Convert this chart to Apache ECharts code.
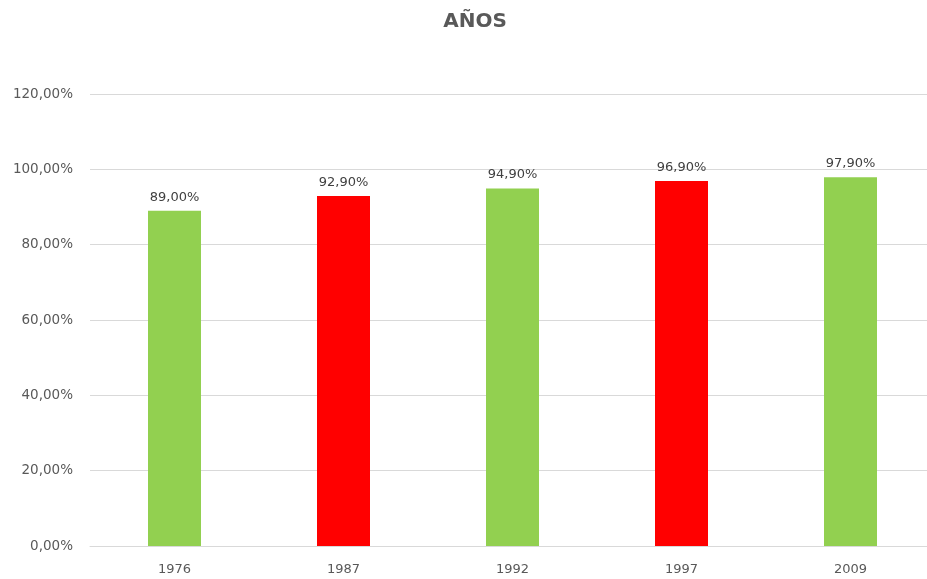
<!DOCTYPE html>
<html>
<head>
<meta charset="utf-8">
<script src="https://cdn.jsdelivr.net/npm/echarts@6/dist/echarts.min.js"></script>
<style>
  html, body { margin: 0; padding: 0; background: #fff; }
  #chart { width: 927px; height: 579px; }
</style>
</head>
<body>
<div id="chart"></div>
<script>
// Years and the share for each one (percent)
const years = ['1976', '1987', '1992', '1997', '2009'];
const values = [89.0, 92.9, 94.9, 96.9, 97.9];
const barColors = ['#92D050', '#FF0000', '#92D050', '#FF0000', '#92D050'];
const yTicks = { min: 0, max: 120, interval: 20 };

const fmt = v => v.toFixed(2).replace('.', ',') + '%';
const font = 'DejaVu Sans';

const chart = echarts.init(document.getElementById('chart'));
chart.setOption({
  animation: false,
  backgroundColor: '#ffffff',
  title: {
    text: 'AÑOS',
    left: 470,
    top: 7,
    textAlign: 'center',
    textStyle: { fontFamily: font, fontSize: 20, fontWeight: 'bold', color: '#595959' }
  },
  grid: { left: 90, top: 94, width: 845, height: 452, containLabel: false, outerBoundsMode: 'none' },
  xAxis: {
    type: 'category',
    data: years,
    axisLine: { lineStyle: { color: '#D9D9D9', width: 1 } },
    axisTick: { show: false },
    axisLabel: { fontFamily: font, fontSize: 13, color: '#595959', margin: 17 }
  },
  yAxis: {
    type: 'value',
    min: yTicks.min,
    max: yTicks.max,
    interval: yTicks.interval,
    axisLine: { show: false },
    axisTick: { show: false },
    splitLine: { lineStyle: { color: '#D9D9D9', width: 1 } },
    axisLabel: { fontFamily: font, fontSize: 13.5, color: '#595959', margin: 17, formatter: fmt }
  },
  series: [{
    type: 'bar',
    data: values.map((v, i) => ({ value: v, itemStyle: { color: barColors[i] } })),
    barWidth: 53,
    label: {
      show: true,
      position: 'top',
      distance: 7,
      fontFamily: font,
      fontSize: 13,
      color: '#404040',
      formatter: p => fmt(p.value)
    }
  }]
});
</script>
</body>
</html>
